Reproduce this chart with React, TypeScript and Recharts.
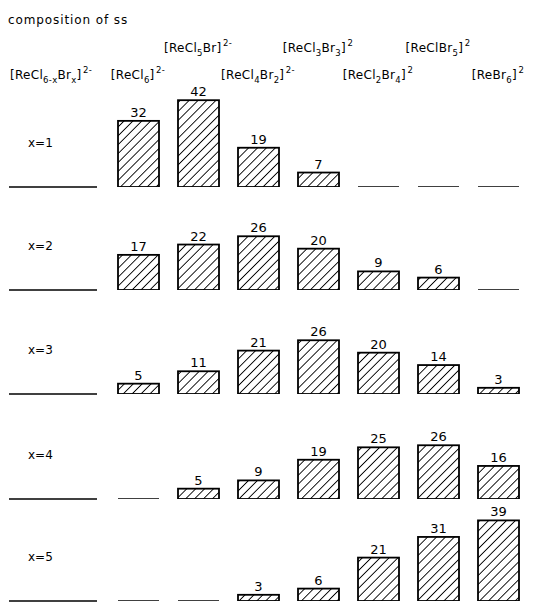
import React from 'react';
import { BarChart, Bar, XAxis, YAxis, LabelList } from 'recharts';

type Part = [string, 'n' | 'sub' | 'sup'];

// Columns (species) — formula pieces for display
const speciesNames: string[] = [
  '[ReCl6]2-',
  '[ReCl5Br]2-',
  '[ReCl4Br2]2-',
  '[ReCl3Br3]2',
  '[ReCl2Br4]2',
  '[ReClBr5]2',
  '[ReBr6]2',
];
const speciesParts: Part[][] = [
  [['[ReCl', 'n'], ['6', 'sub'], [']', 'n'], ['2-', 'sup']],
  [['[ReCl', 'n'], ['5', 'sub'], ['Br]', 'n'], ['2-', 'sup']],
  [['[ReCl', 'n'], ['4', 'sub'], ['Br', 'n'], ['2', 'sub'], [']', 'n'], ['2-', 'sup']],
  [['[ReCl', 'n'], ['3', 'sub'], ['Br', 'n'], ['3', 'sub'], [']', 'n'], ['2', 'sup']],
  [['[ReCl', 'n'], ['2', 'sub'], ['Br', 'n'], ['4', 'sub'], [']', 'n'], ['2', 'sup']],
  [['[ReClBr', 'n'], ['5', 'sub'], [']', 'n'], ['2', 'sup']],
  [['[ReBr', 'n'], ['6', 'sub'], [']', 'n'], ['2', 'sup']],
];
const legendParts: Part[] = [['[ReCl', 'n'], ['6-x', 'sub'], ['Br', 'n'], ['x', 'sub'], [']', 'n'], ['2-', 'sup']];

// Composition of solid solution (%) for x = 1..5
const rowLabels: string[] = ['x=1', 'x=2', 'x=3', 'x=4', 'x=5'];
const x1: number[] = [32, 42, 19, 7, 0, 0, 0];
const x2: number[] = [17, 22, 26, 20, 9, 6, 0];
const x3: number[] = [5, 11, 21, 26, 20, 14, 3];
const x4: number[] = [0, 5, 9, 19, 25, 26, 16];
const x5: number[] = [0, 0, 3, 6, 21, 31, 39];
const rows: number[][] = [x1, x2, x3, x4, x5];

const title = 'composition of ss';

const FONT = '"DejaVu Sans", sans-serif';
const baselines = [187, 290, 394, 499, 601];
const PLOT_H = 93;
const MARGIN_L = 108;
const MARGIN_R = 13;
const W = 541;

function renderParts(parts: Part[], base: number, small: number) {
  const out: React.ReactNode[] = [];
  let cur = 0;
  parts.forEach(([t, k], i) => {
    const target = k === 'sub' ? 4 : k === 'sup' ? -6 : 0;
    const dy = target - cur;
    cur = target;
    out.push(
      <tspan key={i} dy={dy} dx={k === 'sup' ? 1.5 : 0} fontSize={k === 'n' ? base : small}>
        {t}
      </tspan>
    );
  });
  return out;
}

const HeaderTick = (props: any) => {
  const { x, index } = props;
  const parts = speciesParts[index];
  const y = index % 2 === 1 ? 52 : 79;
  return (
    <text x={x} y={y} textAnchor="middle" fill="#000" fontFamily={FONT} letterSpacing={0.3}>
      {renderParts(parts, 12, 8.5)}
    </text>
  );
};

const HatchBar = (props: any) => {
  const { x, y, width, height } = props;
  if (!height || height <= 0.01) {
    return <line x1={x} x2={x + width} y1={y} y2={y} stroke="#000" strokeWidth={1.5} />;
  }
  return <rect x={x} y={y} width={width} height={height} fill="url(#hatch)" stroke="#000" strokeWidth={1.8} />;
};

function Row({ values, index }: { values: number[]; index: number }) {
  const data = speciesNames.map((n, i) => ({ name: n, v: values[i] }));
  const isFirst = index === 0;
  const base = baselines[index];
  const height = isFirst ? base : PLOT_H + 20;
  const top = base - height;
  const marginTop = height - PLOT_H;
  return (
    <div style={{ position: 'absolute', left: 0, top }}>
      <BarChart
        width={W}
        height={height}
        data={data}
        margin={{ top: marginTop - (isFirst ? 20 : 0), right: MARGIN_R, bottom: 0, left: MARGIN_L }}
        style={{ overflow: 'visible' }}
      >
        {isFirst ? (
          <XAxis
            dataKey="name"
            orientation="top"
            height={20}
            axisLine={false}
            tickLine={false}
            interval={0}
            tick={<HeaderTick />}
          />
        ) : (
          <XAxis dataKey="name" hide />
        )}
        <YAxis hide domain={[0, 45]} />
        <Bar dataKey="v" barSize={41} shape={<HatchBar />} isAnimationActive={false}>
          <LabelList
            dataKey="v"
            position="top"
            offset={4}
            fill="#000"
            fontSize={13}
            fontFamily={FONT}
            formatter={(v: any) => (v ? v : '')}
          />
        </Bar>
      </BarChart>
    </div>
  );
}

export default function App() {
  return (
    <div
      style={{
        position: 'absolute',
        left: 0,
        top: 0,
        width: W,
        height: 602,
        overflow: 'hidden',
        background: '#fff',
      }}
    >
      <svg width={0} height={0} style={{ position: 'absolute' }}>
        <defs>
          <pattern id="hatch" patternUnits="userSpaceOnUse" width={6.3} height={6.3} patternTransform="rotate(45)">
            <line x1={3.15} y1={0} x2={3.15} y2={6.3} stroke="#000" strokeWidth={0.9} />
          </pattern>
        </defs>
      </svg>
      <svg width={W} height={602} style={{ position: 'absolute', left: 0, top: 0 }}>
        <text x={8} y={24} fontFamily={FONT} fontSize={12} letterSpacing={0.9} fill="#000">
          {title}
        </text>
        <text x={10} y={79} fontFamily={FONT} fill="#000" letterSpacing={0.3}>
          {renderParts(legendParts, 12, 8.5)}
        </text>
        {rowLabels.map((l, i) => (
          <g key={l}>
            <text x={28} y={baselines[i] - 40} fontFamily={FONT} fontSize={12} fill="#000">
              {l}
            </text>
            <line x1={9} x2={97} y1={baselines[i]} y2={baselines[i]} stroke="#000" strokeWidth={1.5} />
          </g>
        ))}
      </svg>
      {rows.map((r, i) => (
        <Row key={i} values={r} index={i} />
      ))}
    </div>
  );
}
